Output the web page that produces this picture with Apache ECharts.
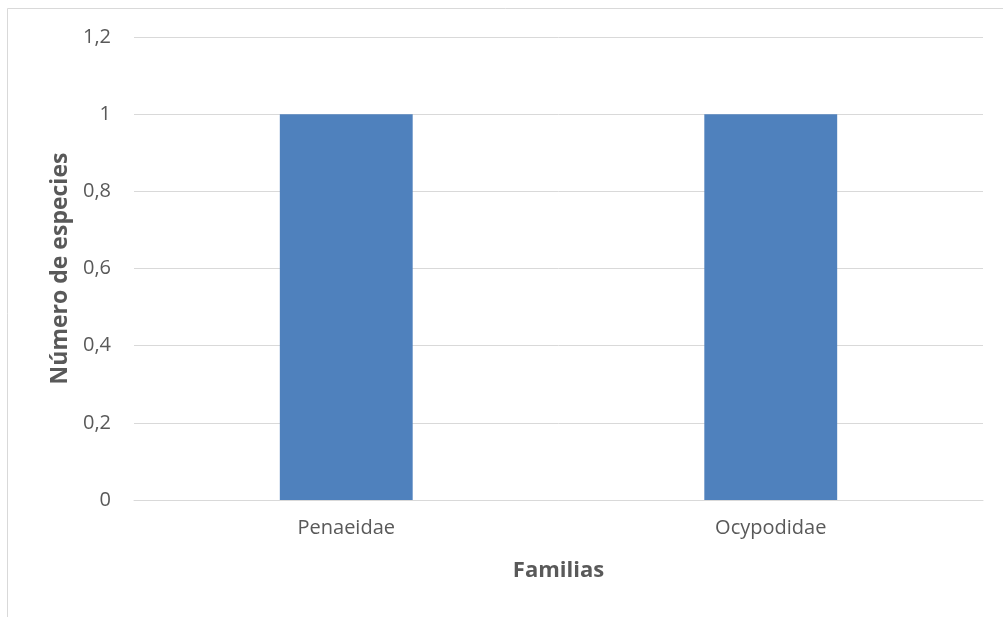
<!DOCTYPE html>
<html>
<head>
<meta charset="utf-8">
<script src="https://cdn.jsdelivr.net/npm/echarts@6/dist/echarts.min.js"></script>
<style>
  html, body { margin: 0; padding: 0; background: #fff; }
  #chart { width: 1003px; height: 617px; }
</style>
</head>
<body>
<div id="chart"></div>
<script>
// Número de especies por familia
const familias = ['Penaeidae', 'Ocypodidae'];
const especies = [1, 1];
const yTicks = ['0', '0,2', '0,4', '0,6', '0,8', '1', '1,2'];

const chart = echarts.init(document.getElementById('chart'), null, { renderer: 'canvas' });

chart.setOption({
  animation: false,
  backgroundColor: '#ffffff',
  graphic: [{
    type: 'rect',
    shape: { x: 7.5, y: 8.5, width: 1100, height: 700 },
    style: { fill: 'none', stroke: '#d9d9d9', lineWidth: 1 },
    silent: true
  }],
  grid: { left: 134, right: 20, top: 37, bottom: 117, containLabel: false },
  xAxis: {
    type: 'category',
    data: familias,
    name: 'Familias',
    nameLocation: 'middle',
    nameGap: 60,
    nameTextStyle: { fontFamily: 'Open Sans', fontSize: 22, fontWeight: 'bold', color: '#595959' },
    axisLine: { show: true, lineStyle: { color: '#d9d9d9', width: 1 } },
    axisTick: { show: false },
    axisLabel: { fontFamily: 'Open Sans', fontSize: 20, color: '#595959', margin: 18 }
  },
  yAxis: {
    type: 'value',
    min: 0,
    max: 1.2,
    interval: 0.2,
    name: 'Número de especies',
    nameLocation: 'middle',
    nameGap: 62,
    nameRotate: 90,
    nameTextStyle: { fontFamily: 'Open Sans', fontSize: 23, fontWeight: 'bold', color: '#595959' },
    axisLine: { show: false },
    axisTick: { show: false },
    splitLine: { lineStyle: { color: '#d9d9d9', width: 1 } },
    axisLabel: {
      fontFamily: 'Open Sans', fontSize: 20, color: '#595959', margin: 23,
      formatter: (v) => yTicks[Math.round(v / 0.2)]
    }
  },
  series: [{
    type: 'bar',
    data: especies,
    barWidth: '31.3%',
    itemStyle: { color: '#4f81bd' }
  }]
});
</script>
</body>
</html>
